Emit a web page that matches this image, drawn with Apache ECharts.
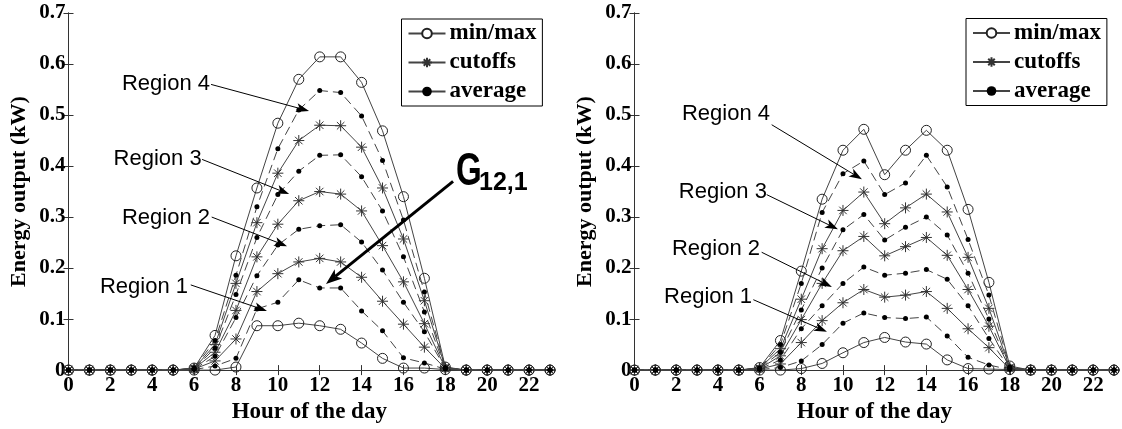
<!DOCTYPE html>
<html>
<head>
<meta charset="utf-8">
<script src="https://cdn.jsdelivr.net/npm/echarts@6/dist/echarts.min.js"></script>
<style>
  html, body { margin: 0; padding: 0; background: #fff; }
  #chart { width: 1122px; height: 429px; }
</style>
</head>
<body>
<div id="chart"></div>
<script>
// Hours of the day (x axis) and tick labels
const hours = [0,1,2,3,4,5,6,7,8,9,10,11,12,13,14,15,16,17,18,19,20,21,22,23];
const xTickLabels = ['0','2','4','6','8','10','12','14','16','18','20','22'];
const yTickLabels = ['0','0.1','0.2','0.3','0.4','0.5','0.6','0.7'];

// Left panel: energy output (kW) per hour
const maxL  = [0,0,0,0,0,0,0.004,0.068,0.224,0.357,0.484,0.570,0.614,0.614,0.564,0.469,0.340,0.180,0.006,0,0,0,0,0];
const avg4L = [0,0,0,0,0,0,0.004,0.058,0.186,0.320,0.434,0.510,0.548,0.544,0.498,0.411,0.294,0.153,0.005,0,0,0,0,0];
const cut3L = [0,0,0,0,0,0,0.003,0.050,0.170,0.289,0.386,0.450,0.480,0.479,0.437,0.357,0.257,0.136,0.005,0,0,0,0,0];
const avg3L = [0,0,0,0,0,0,0.003,0.043,0.148,0.260,0.344,0.390,0.421,0.422,0.379,0.312,0.222,0.114,0.004,0,0,0,0,0];
const cut2L = [0,0,0,0,0,0,0.003,0.035,0.117,0.222,0.286,0.332,0.350,0.345,0.312,0.244,0.173,0.091,0.004,0,0,0,0,0];
const avg2L = [0,0,0,0,0,0,0.002,0.027,0.103,0.185,0.245,0.276,0.283,0.285,0.251,0.196,0.133,0.075,0.003,0,0,0,0,0];
const cut1L = [0,0,0,0,0,0,0.002,0.018,0.061,0.154,0.189,0.212,0.219,0.212,0.182,0.135,0.090,0.045,0.003,0,0,0,0,0];
const avg1L = [0,0,0,0,0,0,0.001,0.008,0.023,0.120,0.133,0.177,0.161,0.161,0.116,0.077,0.024,0.014,0.002,0,0,0,0,0];
const minL  = [0,0,0,0,0,0,0,0,0.006,0.087,0.087,0.092,0.087,0.080,0.053,0.023,0.004,0.004,0.001,0,0,0,0,0];

// Right panel: energy output (kW) per hour
const maxR  = [0,0,0,0,0,0,0.005,0.058,0.194,0.335,0.431,0.472,0.383,0.431,0.470,0.431,0.315,0.172,0.008,0,0,0,0,0];
const avg4R = [0,0,0,0,0,0,0.004,0.050,0.170,0.309,0.385,0.410,0.344,0.367,0.421,0.359,0.256,0.147,0.006,0,0,0,0,0];
const cut3R = [0,0,0,0,0,0,0.004,0.042,0.139,0.238,0.313,0.349,0.287,0.318,0.345,0.310,0.221,0.121,0.005,0,0,0,0,0];
const avg3R = [0,0,0,0,0,0,0.003,0.035,0.118,0.200,0.275,0.305,0.255,0.280,0.300,0.265,0.190,0.100,0.004,0,0,0,0,0];
const cut2R = [0,0,0,0,0,0,0.003,0.028,0.099,0.170,0.234,0.262,0.224,0.242,0.260,0.225,0.158,0.086,0.004,0,0,0,0,0];
const avg2R = [0,0,0,0,0,0,0.002,0.020,0.081,0.126,0.170,0.202,0.186,0.190,0.197,0.178,0.126,0.062,0.003,0,0,0,0,0];
const cut1R = [0,0,0,0,0,0,0.002,0.012,0.054,0.097,0.132,0.158,0.143,0.147,0.154,0.121,0.081,0.044,0.002,0,0,0,0,0];
const avg1R = [0,0,0,0,0,0,0.001,0.005,0.018,0.050,0.092,0.112,0.103,0.101,0.104,0.067,0.025,0.010,0.001,0,0,0,0,0];
const minR  = [0,0,0,0,0,0,0,0,0.003,0.013,0.034,0.054,0.064,0.055,0.051,0.020,0.003,0.002,0.001,0,0,0,0,0];

// Region annotations: label anchor (right edge, middle), arrow start, arrow tip — all in [hour, kW]
const regionNames = ['Region 1','Region 2','Region 3','Region 4'];
const regionTextL  = [[5.71,0.163],[6.76,0.299],[6.36,0.413],[6.76,0.560]];
const regionStartL = [[5.84,0.167],[6.84,0.300],[6.38,0.413],[6.81,0.560]];
const regionTipL   = [[9.48,0.116],[10.44,0.243],[10.54,0.345],[11.49,0.508]];
const regionTextR  = [[5.64,0.144],[6.02,0.237],[6.35,0.349],[6.50,0.503]];
const regionStartR = [[5.70,0.138],[6.10,0.231],[6.34,0.344],[6.58,0.481]];
const regionTipR   = [[9.23,0.075],[9.47,0.163],[9.76,0.276],[10.91,0.374]];
const gLabelPos = [18.51, 0.388];
const gArrowStart = [18.37, 0.370];
const gArrowTip = [12.30, 0.169];

const SERIF = '"Liberation Serif", "Times New Roman", serif';
const SANS = '"Liberation Sans", Arial, sans-serif';
const LINE_COLOR = '#444';
const STAR = 'path://M5,0L5,10M0,5L10,5M1.6,1.6L8.4,8.4M1.6,8.4L8.4,1.6';

function pairs(vals) { return hours.map((h, i) => [h, vals[i]]); }

function makeSeries(kind, vals, panel) {
  const base = {
    type: 'line',
    xAxisIndex: panel * 2,
    yAxisIndex: panel * 2,
    data: pairs(vals),
    clip: false,
    animation: false,
    lineStyle: { color: LINE_COLOR, width: 1 }
  };
  if (kind === 'minmax') {
    // open (unfilled) circles, as plotted markers
    return Object.assign(base, {
      name: 'min/max', symbol: 'circle', symbolSize: 10, z: 3,
      itemStyle: { color: 'rgba(255,255,255,0)', borderColor: '#222', borderWidth: 1 }
    });
  }
  if (kind === 'cut') {
    return Object.assign(base, {
      name: 'cutoffs', symbol: STAR, symbolSize: 11, z: 3,
      itemStyle: { color: '#333', borderColor: '#333', borderWidth: 1 }
    });
  }
  return Object.assign(base, {
    name: 'average', symbol: 'circle', symbolSize: 5, z: 4,
    itemStyle: { color: '#000' },
    lineStyle: { color: LINE_COLOR, width: 1, type: [9, 5] }
  });
}

const seriesList = [
  makeSeries('minmax', maxL, 0), makeSeries('avg', avg4L, 0), makeSeries('cut', cut3L, 0),
  makeSeries('avg', avg3L, 0), makeSeries('cut', cut2L, 0), makeSeries('avg', avg2L, 0),
  makeSeries('cut', cut1L, 0), makeSeries('avg', avg1L, 0), makeSeries('minmax', minL, 0),
  makeSeries('minmax', maxR, 1), makeSeries('avg', avg4R, 1), makeSeries('cut', cut3R, 1),
  makeSeries('avg', avg3R, 1), makeSeries('cut', cut2R, 1), makeSeries('avg', avg2R, 1),
  makeSeries('cut', cut1R, 1), makeSeries('avg', avg1R, 1), makeSeries('minmax', minR, 1)
];

function xAxes(grid) {
  const common = {
    type: 'value', gridIndex: grid, min: 0, max: 23, interval: 2,
    splitLine: { show: false },
    axisLine: { show: true, lineStyle: { color: '#333', width: 1 } },
    axisTick: { show: true, inside: true, length: 5, lineStyle: { color: '#333' } }
  };
  return [
    Object.assign({}, common, {
      position: 'bottom',
      name: 'Hour of the day', nameLocation: 'middle', nameGap: 27,
      nameTextStyle: { fontFamily: SERIF, fontWeight: 'bold', fontSize: 23, color: '#000' },
      axisLabel: {
        margin: 5, fontFamily: SERIF, fontWeight: 'bold', fontSize: 21, color: '#000',
        showMaxLabel: false,
        formatter: v => (v % 2 === 0 ? (xTickLabels[v / 2] || '') : '')
      }
    }),
    Object.assign({}, common, { position: 'top', axisLabel: { show: false } })
  ];
}

function yAxes(grid) {
  const common = {
    type: 'value', gridIndex: grid, min: 0, max: 0.7, interval: 0.1,
    splitLine: { show: false },
    axisLine: { show: true, lineStyle: { color: '#333', width: 1 } },
    axisTick: { show: true, inside: true, length: 5, lineStyle: { color: '#333' } }
  };
  return [
    Object.assign({}, common, {
      position: 'left',
      name: 'Energy output (kW)', nameLocation: 'middle', nameRotate: 90, nameGap: 38,
      nameTextStyle: { fontFamily: SERIF, fontWeight: 'bold', fontSize: 22, color: '#000' },
      axisLabel: {
        margin: 3, fontFamily: SERIF, fontWeight: 'bold', fontSize: 21, color: '#000',
        formatter: v => yTickLabels[Math.round(v * 10)] || ''
      }
    }),
    Object.assign({}, common, { position: 'right', axisLabel: { show: false } })
  ];
}

function legendAt(left, top) {
  return {
    left: left, top: top, orient: 'vertical',
    padding: [3, 6, 3, 6], itemGap: 6, itemWidth: 37, itemHeight: 12,
    borderColor: '#000', borderWidth: 1, backgroundColor: '#fff',
    selectedMode: false,
    textStyle: { fontFamily: SERIF, fontWeight: 'bold', fontSize: 23, color: '#000', padding: [0, 0, 0, -1] },
    data: [
      { name: 'min/max', itemStyle: { color: '#fff' } },
      { name: 'cutoffs' },
      { name: 'average', lineStyle: { type: 'solid' } }
    ]
  };
}

const chart = echarts.init(document.getElementById('chart'), null, { renderer: 'canvas' });
chart.setOption({
  animation: false,
  backgroundColor: '#fff',
  grid: [
    { left: 68.5, right: 572, top: 13, bottom: 54.5 },
    { left: 634.5, right: 8, top: 13, bottom: 54.5 }
  ],
  xAxis: xAxes(0).concat(xAxes(1)),
  yAxis: yAxes(0).concat(yAxes(1)),
  legend: [legendAt(401.5, 19), legendAt(966, 18.5)],
  series: seriesList
});

// Arrow annotations, placed in data coordinates
function px(grid, p) { return chart.convertToPixel({ gridIndex: grid }, p); }

function arrow(s, t, lineWidth, headLen, headHalf) {
  const dx = t[0] - s[0], dy = t[1] - s[1];
  const len = Math.sqrt(dx * dx + dy * dy);
  const ux = dx / len, uy = dy / len;
  const nx = -uy, ny = ux;
  const bx = t[0] - ux * headLen, by = t[1] - uy * headLen;
  const notch = [bx + ux * headLen * 0.25, by + uy * headLen * 0.25];
  return [
    { type: 'line', silent: true, z: 10,
      shape: { x1: s[0], y1: s[1], x2: notch[0], y2: notch[1] },
      style: { stroke: '#000', lineWidth: lineWidth } },
    { type: 'polygon', silent: true, z: 10,
      shape: { points: [t, [bx + nx * headHalf, by + ny * headHalf], notch, [bx - nx * headHalf, by - ny * headHalf]] },
      style: { fill: '#000' } }
  ];
}

const elements = [];
[[0, regionTextL, regionStartL, regionTipL], [1, regionTextR, regionStartR, regionTipR]].forEach(([g, txt, st, tp]) => {
  regionNames.forEach((name, i) => {
    const tpos = px(g, txt[i]);
    elements.push({
      type: 'text', silent: true, z: 10,
      style: { text: name, x: tpos[0], y: tpos[1], align: 'right', verticalAlign: 'middle',
               fontFamily: SANS, fontSize: 22, fill: '#000' }
    });
    arrow(px(g, st[i]), px(g, tp[i]), 1, 13, 4.5).forEach(e => elements.push(e));
  });
});

const gp = px(0, gLabelPos);
elements.push({
  type: 'text', silent: true, z: 10, x: gp[0], y: gp[1], scaleX: 0.72,
  style: { text: 'G', x: 0, y: 0, align: 'left', verticalAlign: 'middle',
           fontFamily: SANS, fontWeight: 'bold', fontSize: 46, fill: '#000' }
});
elements.push({
  type: 'text', silent: true, z: 10,
  style: { text: '12,1', x: gp[0] + 23, y: gp[1] + 11, align: 'left', verticalAlign: 'middle',
           fontFamily: SANS, fontWeight: 'bold', fontSize: 25, fill: '#000' }
});
arrow(px(0, gArrowStart), px(0, gArrowTip), 3, 16, 6).forEach(e => elements.push(e));

chart.setOption({ graphic: { elements: elements } });
</script>
</body>
</html>
